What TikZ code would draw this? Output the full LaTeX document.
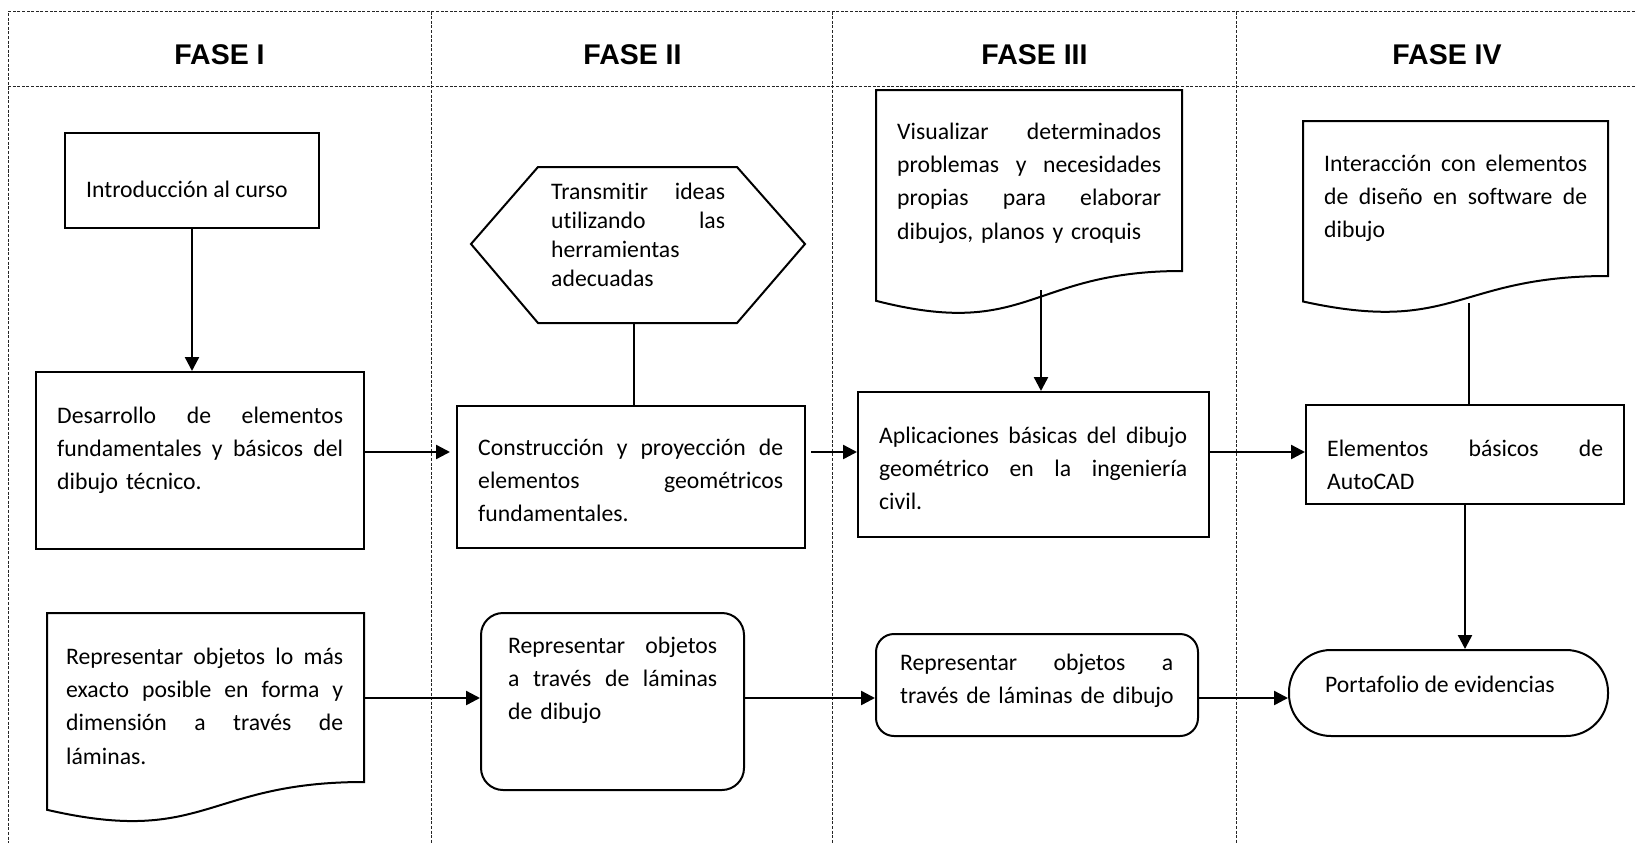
\documentclass[tikz,border=0pt]{standalone}
\usepackage{fontspec}
\setmainfont{Carlito}[Ligatures=NoCommon]
\newfontfamily\headfont{Liberation Sans}
\usetikzlibrary{arrows.meta,calc}
\newcommand\jl[2]{\makebox[#1][s]{\spaceskip=0pt\xspaceskip=0pt #2}}
\begin{document}
\begin{tikzpicture}[x=1pt,y=-1pt,
  lane/.style={draw=black!85, line width=0.9pt, dash pattern=on 3pt off 1.6pt},
  head/.style={font=\headfont\bfseries\fontsize{28.5}{30}\selectfont, inner sep=0pt},
  box/.style={draw, line width=2pt, rectangle, inner sep=0pt},
  ghost/.style={rectangle, inner sep=0pt},
  txt/.style={font=\fontsize{23.7}{33.4}\selectfont, inner sep=0pt, anchor=base west},
  txtsingle/.style={font=\fontsize{23.7}{29}\selectfont, inner sep=0pt, anchor=base west},
  arr/.style={draw, line width=2.4pt, -{Triangle[length=14pt,width=14pt]}},
  plain/.style={draw, line width=1.6pt}
]
\useasboundingbox (0,0) rectangle (1635,843);
% lanes
\draw[lane] (1635,11.7) -- (8,11.7) -- (8,843);
\draw[lane] (8,86) -- (1635,86);
\draw[lane] (431,11.7) -- (431,843);
\draw[lane] (832,11.7) -- (832,843);
\draw[lane] (1236,11.7) -- (1236,843);
\node[head] (h1) at (219.5,54.5) {FASE I};
\node[head] (h2) at (632.5,54.5) {FASE II};
\node[head] (h3) at (1034.5,54.5) {FASE III};
\node[head] (h4) at (1447,54.5) {FASE IV};

% column 1
\node[box, minimum width=254pt, minimum height=95pt] (intro) at (192,180.5) {};
\node[txt] (tintro) at (86,197) {Introducción al curso};
\node[box, minimum width=328pt, minimum height=177pt] (desarrollo) at (200,460.5) {};
\node[txt, text width=286pt] (tdes) at (57,423) {\jl{286pt}{Desarrollo de elementos}\\\jl{286pt}{fundamentales y básicos del}\\dibujo técnico.};
\node[ghost, minimum width=317pt, minimum height=197pt] (repr) at (205.5,711.5) {};
\draw[box] (47,613) -- (364,613) -- (364,782) .. controls (205.5,782) and (205.5,846.4) .. (47,809.8) -- cycle;
\node[txt, text width=277pt] (trepr) at (66,664) {\jl{277pt}{Representar objetos lo más}\\\jl{277pt}{exacto posible en forma y}\\\jl{277pt}{dimensión a través de}\\láminas.};

% column 2
\node[ghost, minimum width=334pt, minimum height=156pt] (hex) at (638,245) {};
\draw[box] (471,244) -- (538,167) -- (737,167) -- (805,244) -- (737,323) -- (538,323) -- cycle;
\node[txtsingle, text width=174pt] (thex) at (551,199) {\jl{174pt}{Transmitir ideas}\\\jl{174pt}{utilizando las}\\herramientas\\adecuadas};
\node[box, minimum width=348pt, minimum height=142pt] (constr) at (631,477) {};
\node[txt, text width=305pt] (tconstr) at (478,455) {\jl{305pt}{Construcción y proyección de}\\\jl{305pt}{elementos geométricos}\\fundamentales.};
\node[box, rounded corners=22pt, minimum width=263pt, minimum height=177pt] (rr1) at (612.5,701.5) {};
\node[txt, text width=209pt] (trr1) at (508,653) {\jl{209pt}{Representar objetos}\\\jl{209pt}{a través de láminas}\\de dibujo};

% column 3
\node[ghost, minimum width=306pt, minimum height=226pt] (visual) at (1029,203) {};
\draw[box] (876,90) -- (1182,90) -- (1182,271) .. controls (1029,271) and (1029,340) .. (876,300.8) -- cycle;
\node[txt, text width=264pt] (tvisual) at (897,139) {\jl{264pt}{Visualizar determinados}\\\jl{264pt}{problemas y necesidades}\\\jl{264pt}{propias para elaborar}\\dibujos, planos y croquis};
\node[box, minimum width=351pt, minimum height=145pt] (aplic) at (1033.5,464.5) {};
\node[txt, text width=308pt] (taplic) at (879,443) {\jl{308pt}{Aplicaciones básicas del dibujo}\\\jl{308pt}{geométrico en la ingeniería}\\civil.};
\node[box, rounded corners=18pt, minimum width=322pt, minimum height=102pt] (rr2) at (1037,685) {};
\node[txt, text width=300pt] (trr2) at (900,670) {\jl{273pt}{Representar objetos a}\\\mbox{través de láminas de dibujo}};

% column 4
\node[ghost, minimum width=305pt, minimum height=193pt] (inter) at (1455.5,217.5) {};
\draw[box] (1303,121) -- (1608,121) -- (1608,276) .. controls (1455.5,276) and (1455.5,335) .. (1303,301.5) -- cycle;
\node[txt, text width=263pt] (tinter) at (1324,171) {\jl{263pt}{Interacción con elementos}\\\jl{263pt}{de diseño en software de}\\dibujo};
\node[box, minimum width=318pt, minimum height=99pt] (elem) at (1465,454.5) {};
\node[txt, text width=276pt] (telem) at (1327,456) {\jl{276pt}{Elementos básicos de}\\AutoCAD};
\node[box, rounded corners=42pt, minimum width=319pt, minimum height=86pt] (port) at (1448.5,693) {};
\node[txt] (tport) at (1325,692) {Portafolio de evidencias};

% connectors
\coordinate (mr) at (0,452);
\coordinate (br) at (0,698);
\coordinate (hb) at (634,323);
\coordinate (vb) at (1041,290);
\coordinate (ib) at (1469,303);
\draw[arr] (intro.south) -- (intro.south |- desarrollo.north);
\draw[arr, shorten >=6pt] (desarrollo.east |- mr) -- (constr.west |- mr);
\draw[arr, shorten <=5pt] (constr.east |- mr) -- (aplic.west |- mr);
\draw[arr] (aplic.east |- mr) -- (elem.west |- mr);
\draw[plain] (hb) -- (hb |- constr.north);
\draw[arr] (vb) -- (vb |- aplic.north);
\draw[plain] (ib) -- (ib |- elem.north);
\draw[arr] (elem.south) -- (elem.south |- port.north);
\draw[arr] (repr.east |- br) -- (rr1.west |- br);
\draw[arr] (rr1.east |- br) -- (rr2.west |- br);
\draw[arr] (rr2.east |- br) -- (port.west |- br);
\end{tikzpicture}
\end{document}
